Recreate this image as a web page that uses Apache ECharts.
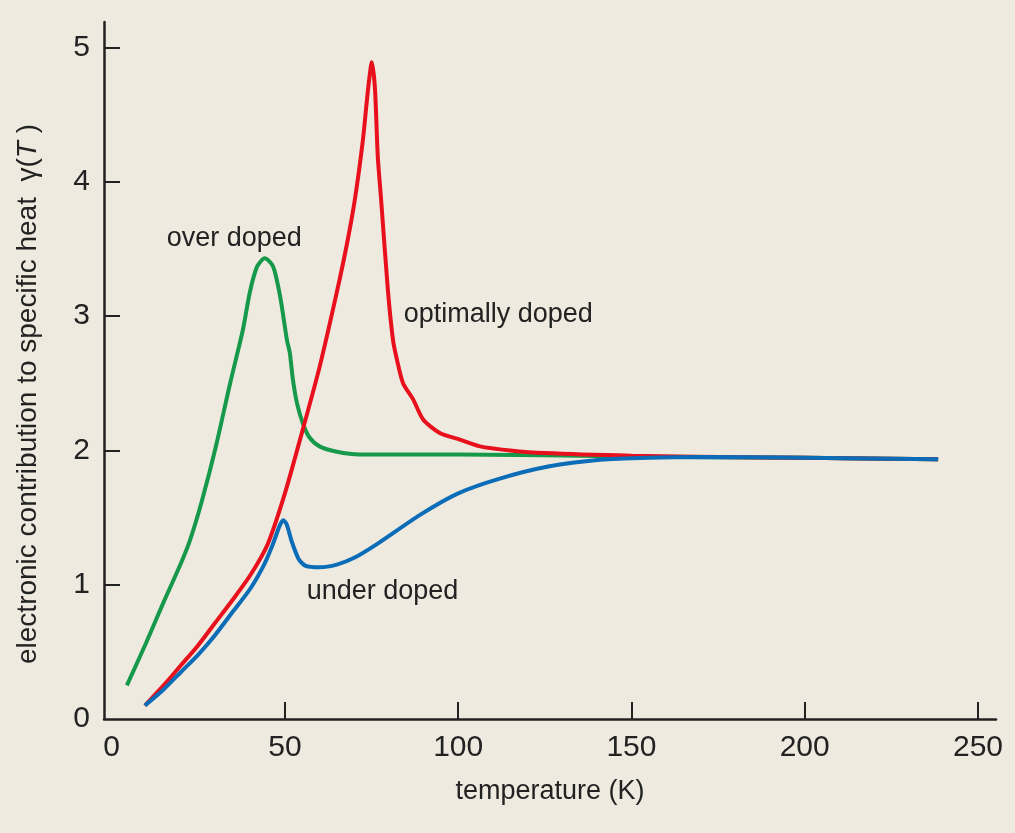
<!DOCTYPE html>
<html>
<head>
<meta charset="utf-8">
<script src="https://cdn.jsdelivr.net/npm/echarts@6/dist/echarts.min.js"></script>
<style>
html,body{margin:0;padding:0;background:#eeeadf;}
#chart{width:1015px;height:833px;}
</style>
</head>
<body>
<div id="chart"></div>
<script>
// Data
var xTickValues = [50, 100, 150, 200, 250];
var xLabelValues = [0, 50, 100, 150, 200, 250];
var yTickValues = [1, 2, 3, 4, 5];
var yLabelValues = [0, 1, 2, 3, 4, 5];

var overDoped = [[4.4,0.25],[10,0.57],[15,0.87],[20,1.16],[22.6,1.33],[26,1.62],[30,2.02],[34.2,2.5],[37.9,2.9],[39.9,3.18],[42,3.37],[44.2,3.43],[46.6,3.37],[48.6,3.15],[50.6,2.82],[51.4,2.73],[52.3,2.53],[53.5,2.35],[55.2,2.2],[57,2.1],[60,2.03],[65,1.99],[71.6,1.97],[100,1.97],[150,1.955],[200,1.945],[238.5,1.935]];

var optimallyDoped = [[9.6,0.10],[15,0.25],[20,0.40],[25,0.55],[30,0.72],[35,0.89],[40,1.07],[45,1.30],[50,1.68],[55,2.14],[60,2.62],[65,3.18],[68,3.55],[70.2,3.87],[72.5,4.31],[74,4.69],[75.1,4.89],[76,4.69],[76.8,4.19],[77.7,3.89],[79.7,3.2],[81.2,2.82],[82.3,2.68],[84.1,2.5],[87,2.38],[89.9,2.23],[94.7,2.13],[100.5,2.08],[106.3,2.03],[115,2.0],[125,1.98],[150,1.96],[175,1.95],[200,1.945],[238.5,1.935]];

var underDoped = [[9.6,0.10],[15,0.22],[20,0.35],[25,0.48],[30,0.63],[35,0.80],[40,0.97],[44,1.15],[46.5,1.30],[48.5,1.44],[49.5,1.48],[50.5,1.45],[52,1.32],[54,1.19],[56,1.14],[60,1.13],[65,1.15],[70,1.20],[77,1.31],[89,1.52],[100,1.68],[112,1.79],[126,1.88],[141,1.93],[155,1.945],[170,1.95],[200,1.945],[238.5,1.935]];

var annotations = [
  {name: 'over doped', value: [15.9, 3.58]},
  {name: 'optimally doped', value: [84.3, 3.01]},
  {name: 'under doped', value: [56.3, 0.95]}
];

var axisColor = '#222222';
var labelFont = "'Liberation Sans', sans-serif";

var chart = echarts.init(document.getElementById('chart'), null, {renderer: 'canvas'});

function lineSeries(name, data, color) {
  return {
    name: name,
    type: 'line',
    data: data,
    showSymbol: false,
    symbol: 'none',
    smooth: 0.25,
    lineStyle: {color: color, width: 4},
    z: 3
  };
}

chart.setOption({
  backgroundColor: '#eeeadf',
  animation: false,
  grid: {left: 104, right: 19, top: 22, bottom: 114, containLabel: false},
  xAxis: {
    type: 'value',
    min: -2.2,
    max: 255.2,
    name: 'temperature (K)',
    nameLocation: 'middle',
    nameGap: 59,
    nameTextStyle: {fontFamily: labelFont, fontSize: 27, color: axisColor},
    axisLine: {show: true, onZero: false, lineStyle: {color: axisColor, width: 2.5}},
    axisTick: {show: true, inside: true, length: 17, customValues: xTickValues, lineStyle: {color: axisColor, width: 2}},
    axisLabel: {customValues: xLabelValues, fontFamily: labelFont, fontSize: 30, color: axisColor, margin: 14},
    splitLine: {show: false}
  },
  yAxis: {
    type: 'value',
    min: 0,
    max: 5.19,
    axisLine: {show: true, onZero: false, lineStyle: {color: axisColor, width: 2.5}},
    axisTick: {show: true, inside: true, length: 16, customValues: yTickValues, lineStyle: {color: axisColor, width: 2}},
    axisLabel: {customValues: yLabelValues, fontFamily: labelFont, fontSize: 30, color: axisColor, margin: 14},
    splitLine: {show: false}
  },
  graphic: [{
    type: 'text',
    x: 28,
    y: 394,
    rotation: Math.PI / 2,
    style: {
      text: 'electronic contribution to specific heat  \u03b3({i|T} )',
      fontFamily: labelFont,
      fontSize: 28,
      fill: axisColor,
      align: 'center',
      verticalAlign: 'middle',
      rich: {i: {fontStyle: 'italic', fontFamily: labelFont, fontSize: 28, fill: axisColor}}
    }
  }],
  series: [
    lineSeries('over doped', overDoped, '#16994a'),
    lineSeries('optimally doped', optimallyDoped, '#e8101c'),
    lineSeries('under doped', underDoped, '#0b6cb8'),
    {
      type: 'scatter',
      data: annotations,
      symbolSize: 0,
      silent: true,
      itemStyle: {opacity: 1},
      emphasis: {disabled: true},
      label: {
        show: true,
        position: 'right',
        distance: 0,
        formatter: function (p) { return p.name; },
        fontFamily: labelFont,
        fontSize: 27,
        color: axisColor
      },
      z: 5
    }
  ]
});
</script>
</body>
</html>
